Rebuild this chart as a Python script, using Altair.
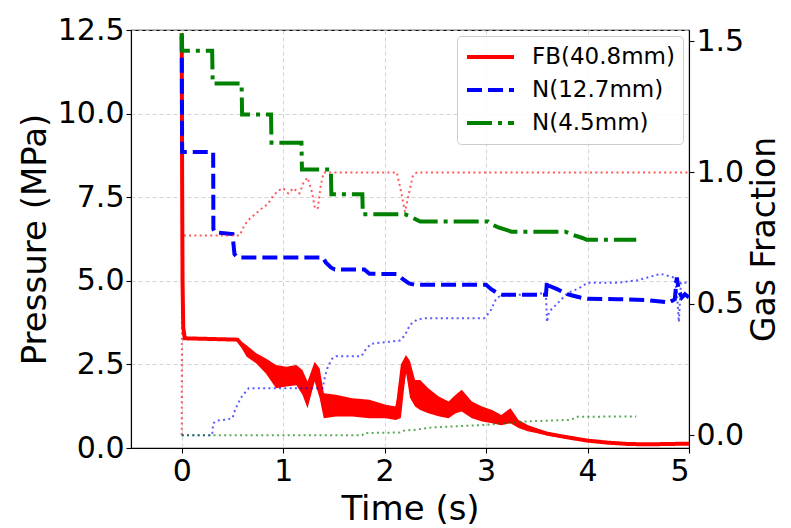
import altair as alt
import pandas as pd

# ---------------- data ----------------
series_names = ["FB(40.8mm)", "N(12.7mm)", "N(4.5mm)"]
series_colors = ["#ff0000", "#0000ff", "#008000"]

# Pressure (left axis) - centre line of each series
fb_t = [0.0, 0.004, 0.008, 0.015, 0.03, 0.55, 0.64, 0.735, 0.83, 0.93, 1.03, 1.13, 1.19, 1.24,
        1.31, 1.36, 1.40, 1.52, 1.68, 1.85, 2.01, 2.11, 2.16, 2.21, 2.25, 2.30, 2.35, 2.43,
        2.53, 2.63, 2.70, 2.76, 2.86, 2.96, 3.06, 3.15, 3.24, 3.32, 3.41, 3.6, 3.8, 4.0,
        4.2, 4.4, 4.6, 4.8, 5.0]
fb_p = [12.4, 8.0, 5.0, 3.6, 3.28, 3.24, 2.9, 2.68, 2.45, 2.13, 2.13, 2.18, 1.96, 1.59,
        2.28, 1.93, 1.26, 1.26, 1.21, 1.16, 1.09, 1.04, 1.7, 2.53, 2.05, 1.63, 1.58, 1.41,
        1.25, 1.14, 1.31, 1.41, 1.14, 1.01, 0.94, 0.83, 0.96, 0.72, 0.6, 0.43, 0.32, 0.22,
        0.16, 0.12, 0.11, 0.12, 0.13]

# envelope of the noisy FB pressure trace
band_t = [0.55, 0.64, 0.735, 0.83, 0.93, 1.03, 1.13, 1.19, 1.24, 1.31, 1.36, 1.40, 1.52,
          1.68, 1.85, 2.01, 2.11, 2.16, 2.21, 2.25, 2.30, 2.35, 2.43, 2.53, 2.63, 2.70,
          2.76, 2.86, 2.96, 3.06, 3.15, 3.24, 3.32, 3.41, 3.6, 3.8, 4.0]
band_hi = [3.27, 3.07, 2.83, 2.68, 2.48, 2.43, 2.48, 2.33, 1.99, 2.58, 2.38, 1.64, 1.59,
           1.49, 1.44, 1.29, 1.24, 2.5, 2.78, 2.6, 2.03, 2.03, 1.79, 1.55, 1.39, 1.59,
           1.74, 1.39, 1.24, 1.14, 0.99, 1.19, 0.84, 0.69, 0.48, 0.36, 0.25]
band_lo = [3.2, 2.73, 2.53, 2.23, 1.79, 1.84, 1.88, 1.59, 1.19, 1.99, 1.49, 0.89, 0.94,
           0.94, 0.89, 0.89, 0.84, 0.9, 2.28, 1.5, 1.24, 1.14, 1.04, 0.95, 0.89, 1.04,
           1.09, 0.89, 0.79, 0.74, 0.68, 0.74, 0.6, 0.5, 0.38, 0.28, 0.19]

n127_t = [0.0, 0.004, 0.31, 0.312, 0.33, 0.50, 0.52, 0.55, 1.39, 1.42, 1.47, 1.51, 1.80, 1.85,
          2.12, 2.18, 2.24, 2.30, 3.00, 3.05, 3.12, 3.16, 3.59, 3.60, 3.62, 3.70, 3.80, 3.85,
          3.93, 4.00, 4.30, 4.60, 4.72, 4.80, 4.86, 4.88, 4.90, 4.93, 4.96, 5.00]
n127_p = [12.3, 8.85, 8.85, 6.55, 6.45, 6.4, 5.8, 5.7, 5.7, 5.55, 5.4, 5.34, 5.34, 5.21,
          5.2, 5.05, 4.92, 4.88, 4.88, 4.75, 4.62, 4.58, 4.58, 5.0, 4.85, 4.75, 4.6, 4.56,
          4.5, 4.46, 4.45, 4.42, 4.38, 4.35, 4.45, 5.1, 4.7, 4.5, 4.6, 4.5]

n45_t = [0.0, 0.005, 0.30, 0.305, 0.59, 0.595, 0.88, 0.885, 1.18, 1.185, 1.47, 1.475, 1.78, 1.785,
         2.20, 2.25, 2.30, 2.35, 3.02, 3.06, 3.12, 3.20, 3.25, 3.78, 3.85, 3.95, 3.99, 4.48]
n45_p = [12.4, 11.88, 11.88, 10.9, 10.9, 9.97, 9.97, 9.13, 9.13, 8.33, 8.33, 7.59, 7.59, 6.99,
         6.99, 6.92, 6.85, 6.77, 6.77, 6.68, 6.6, 6.52, 6.47, 6.47, 6.38, 6.28, 6.23, 6.23]

# Gas fraction (right axis)
fbg_t = [0.0, 0.003, 0.57, 0.62, 0.66, 0.72, 0.78, 0.85, 0.90, 0.95, 1.00, 1.05, 1.10, 1.16,
         1.20, 1.24, 1.28, 1.31, 1.34, 1.37, 1.40, 2.12, 2.16, 2.20, 2.24, 2.28, 2.32, 5.0]
fbg_g = [0.0, 0.76, 0.76, 0.80, 0.82, 0.84, 0.86, 0.88, 0.91, 0.93, 0.94, 0.92, 0.94, 0.92,
         0.96, 0.98, 0.93, 0.87, 0.86, 0.95, 1.0, 1.0, 0.93, 0.85, 0.92, 0.99, 1.0, 1.0]

n127g_t = [0.0, 0.30, 0.31, 0.35, 0.45, 0.50, 0.53, 0.58, 0.62, 0.66, 1.39, 1.41, 1.44, 1.48,
           1.52, 1.77, 1.82, 1.87, 2.15, 2.20, 2.25, 2.32, 2.40, 2.98, 3.04, 3.10, 3.14, 3.59,
           3.60, 3.62, 3.70, 3.80, 3.92, 4.00, 4.30, 4.50, 4.72, 4.85, 4.88, 4.90, 4.92, 5.0]
n127g_g = [0.0, 0.0, 0.045, 0.055, 0.06, 0.065, 0.10, 0.14, 0.16, 0.178, 0.178, 0.22, 0.26, 0.29,
           0.30, 0.30, 0.33, 0.348, 0.36, 0.38, 0.42, 0.44, 0.445, 0.445, 0.47, 0.52, 0.53, 0.54,
           0.43, 0.47, 0.50, 0.54, 0.56, 0.58, 0.58, 0.59, 0.614, 0.60, 0.55, 0.43, 0.58, 0.58]

n45g_t = [0.0, 1.78, 1.80, 2.15, 2.20, 2.30, 2.46, 3.00, 3.38, 3.83, 3.90, 4.48]
n45g_g = [0.0, 0.0, 0.008, 0.01, 0.018, 0.02, 0.029, 0.039, 0.052, 0.058, 0.07, 0.071]

x_ticks = [0, 1, 2, 3, 4, 5]
p_ticks = [0, 2.5, 5, 7.5, 10, 12.5]
g_ticks = [0, 0.5, 1.0, 1.5]

# ---------------- tables ----------------
rows = []
for name, ts, ps in zip(series_names, [fb_t, n127_t, n45_t], [fb_p, n127_p, n45_p]):
    for i, (t, p) in enumerate(zip(ts, ps)):
        rows.append({"series": name, "t": t, "p": p, "i": i})
press_df = pd.DataFrame(rows)

band_df = pd.DataFrame({"t": band_t, "lo": band_lo, "hi": band_hi})

grows = []
for name, ts, gs in zip(series_names, [fbg_t, n127g_t, n45g_t], [fbg_g, n127g_g, n45g_g]):
    for i, (t, g) in enumerate(zip(ts, gs)):
        grows.append({"gseries": name, "t": t, "g": g, "i": i})
gas_df = pd.DataFrame(grows)

W, H = 558, 418

# ---------------- encodings ----------------
x_enc = alt.X("t:Q", scale=alt.Scale(domain=[-0.5, 5], nice=False, zero=False),
              axis=alt.Axis(title="Time (s)", values=x_ticks, format="d", grid=True,
                            labelBaseline="alphabetic", labelPadding=27.8,
                            titleFontSize=34, titleBaseline="alphabetic",
                            titleX=W / 2, titleY=71.5, titleAlign="center"))

p_scale = alt.Scale(domain=[0, 12.5], nice=False, zero=False)
p_axis = alt.Axis(title="Pressure (MPa)", values=p_ticks, format=".1f", grid=True,
                  labelPadding=2, orient="left", titleAngle=270, titleFontSize=34,
                  titleBaseline="alphabetic", titleAlign="center",
                  titleX=-86, titleY=H / 2)

g_scale = alt.Scale(domain=[-0.049, 1.542], nice=False, zero=False)
g_axis = alt.Axis(title="Gas Fraction", values=g_ticks, format=".1f", grid=False,
                  orient="right", labelPadding=2, titleAngle=270, titleFontSize=33,
                  titleBaseline="alphabetic", titleAlign="center",
                  titleX=85, titleY=H / 2)

legend = alt.Legend(title=None, orient="top-right", offset=6, symbolType="stroke",
                    symbolSize=2209, symbolStrokeWidth=4, labelFontSize=23,
                    labelFont="DejaVu Sans", labelColor="black", labelOffset=16,
                    fillColor="rgba(255,255,255,0.85)", strokeColor="#cccccc",
                    cornerRadius=4, padding=8, rowPadding=7, clipHeight=26)

band = alt.Chart(band_df).mark_area(color="#ff0000", opacity=1, clip=True).encode(
    x=x_enc,
    y=alt.Y("lo:Q", scale=p_scale, axis=p_axis),
    y2="hi:Q",
)

plines = alt.Chart(press_df).mark_line(strokeWidth=4, clip=True).encode(
    x=x_enc,
    y=alt.Y("p:Q", scale=p_scale, axis=p_axis),
    color=alt.Color("series:N", scale=alt.Scale(domain=series_names, range=series_colors),
                    legend=legend),
    strokeDash=alt.StrokeDash("series:N",
                              scale=alt.Scale(domain=series_names,
                                              range=[[1, 0], [15, 6], [25, 6, 4, 6]]),
                              legend=legend),
    order=alt.Order("i:Q"),
)

left = alt.layer(band, plines)

glines = alt.Chart(gas_df).mark_line(strokeWidth=2, strokeDash=[2, 3.3], opacity=0.65,
                                     clip=True).encode(
    x=x_enc,
    y=alt.Y("g:Q", scale=g_scale, axis=g_axis),
    color=alt.Color("gseries:N", scale=alt.Scale(domain=series_names, range=series_colors),
                    legend=None),
    detail="gseries:N",
    order=alt.Order("i:Q"),
)

chart = alt.layer(left, glines).resolve_scale(
    y="independent", color="independent", strokeDash="independent"
).properties(
    width=W, height=H,
    autosize=alt.AutoSizeParams(type="none"),
    padding={"left": 123, "top": 22, "right": 94, "bottom": 80},
).configure_view(
    stroke="black", strokeWidth=1.1
).configure_axis(
    labelFont="DejaVu Sans", titleFont="DejaVu Sans", labelFontSize=30, titleFontSize=34,
    titleFontWeight="normal", labelColor="black", titleColor="black",
    domainColor="black", domainWidth=1.1, tickColor="black", tickSize=5, tickWidth=1.1,
    gridColor="#c8c8c8", gridDash=[4, 3], gridWidth=0.8, gridOpacity=1,
)

chart.save("out.html", embed_options={"renderer": "svg", "actions": False})
